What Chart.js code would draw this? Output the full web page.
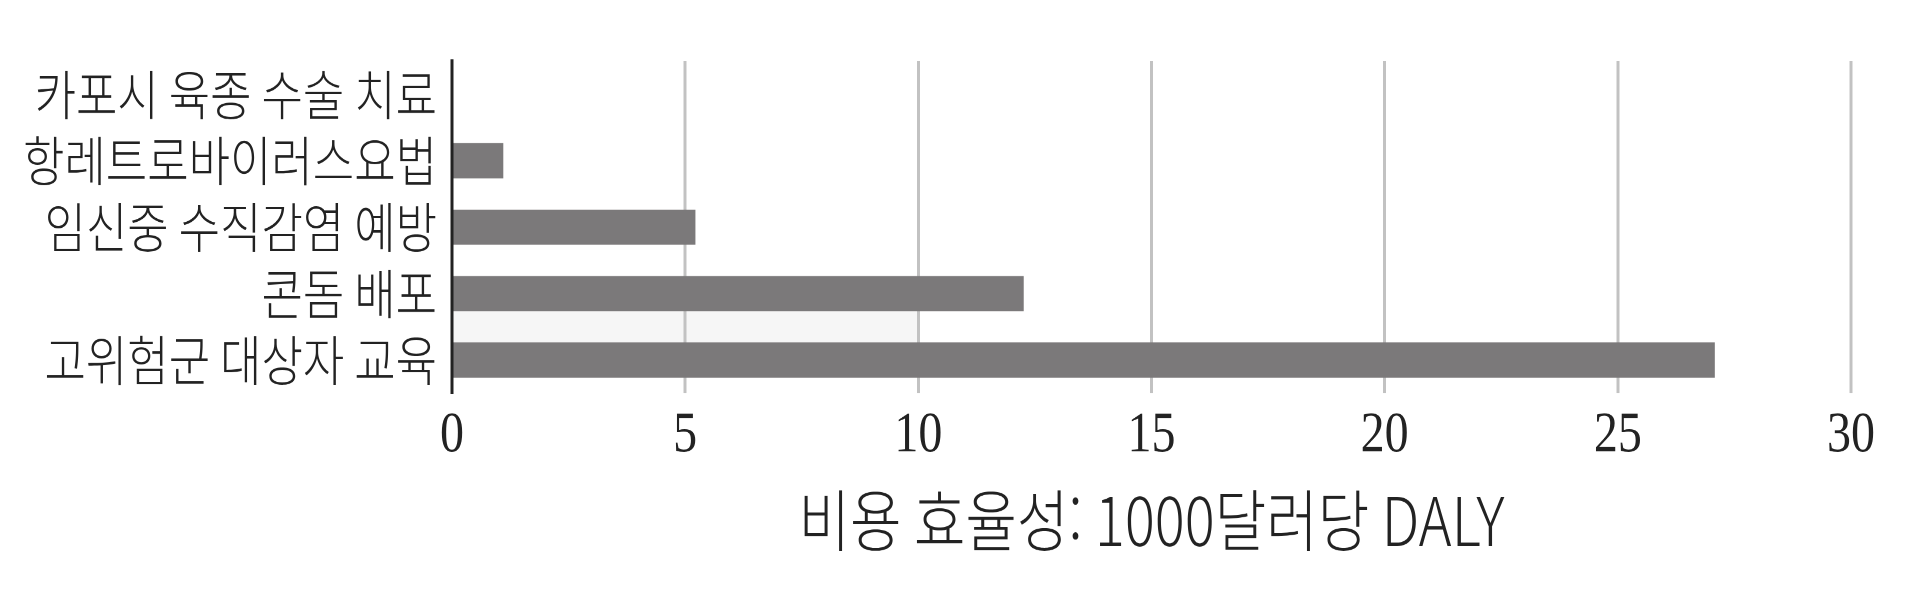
<!DOCTYPE html>
<html lang="ko">
<head>
<meta charset="utf-8">
<title>비용 효율성</title>
<script src="https://cdn.jsdelivr.net/npm/chart.js@4/dist/chart.umd.min.js"></script>
<style>
  html, body { margin: 0; padding: 0; background: #fff; overflow: hidden; }
</style>
</head>
<body>
<!-- o gráfico original tem o texto mais alto que largo: desenha 1920x498 e estica para 597 -->
<canvas id="chartCusto" width="1920" height="498" style="display:block;width:1920px;height:597px"></canvas>
<script>
// dados do gráfico
const categorias = ['카포시 육종 수술 치료', '항레트로바이러스요법', '임신중 수직감염 예방', '콘돔 배포', '고위험군 대상자 교육'];
const valores = [0, 1.1, 5.22, 12.26, 27.08];
const eixoX = { min: 0, max: 30, passo: 5 };
const tituloX = '비용 효율성: 1000달러당 DALY';

// faixa cinza clara que aparece entre as duas últimas barras
const faixaValores = [0, 10];
const faixaEntre = [3, 4];

const corBarra = '#7b797a';
const corGrade = '#c2c2c2';
const corTexto = '#222222';
const fonteCoreana = '"Noto Sans CJK KR", "Noto Sans", sans-serif';

const pluginFaixa = {
    id: 'faixa',
    beforeDraw(chart) {
        const meta = chart.getDatasetMeta(0);
        const a = meta.data[faixaEntre[0]];
        const b = meta.data[faixaEntre[1]];
        if (!a || !b) return;
        const x = chart.scales.x;
        const ctx = chart.ctx;
        const x0 = x.getPixelForValue(faixaValores[0]);
        const x1 = x.getPixelForValue(faixaValores[1]);
        const y0 = a.y + a.height / 2;
        const y1 = b.y - b.height / 2;
        ctx.save();
        ctx.fillStyle = '#f6f6f6';
        ctx.fillRect(x0, y0, x1 - x0, y1 - y0);
        ctx.restore();
    }
};

const ctx = document.getElementById('chartCusto').getContext('2d');
new Chart(ctx, {
    type: 'bar',
    data: {
        labels: categorias,
        datasets: [{
            data: valores,
            backgroundColor: corBarra,
            borderWidth: 0,
            barPercentage: 0.53,
            categoryPercentage: 1
        }]
    },
    plugins: [pluginFaixa],
    options: {
        indexAxis: 'y',
        responsive: false,
        devicePixelRatio: 2,
        animation: false,
        layout: { padding: { top: 51, right: 69, left: 0, bottom: 0 } },
        plugins: {
            legend: { display: false },
            tooltip: { enabled: false }
        },
        scales: {
            x: {
                type: 'linear',
                min: eixoX.min,
                max: eixoX.max,
                ticks: {
                    stepSize: eixoX.passo,
                    color: corTexto,
                    padding: 7,
                    font: { family: '"Liberation Serif", "Times New Roman", serif', size: 48 }
                },
                grid: { color: corGrade, lineWidth: 3, drawTicks: false },
                border: { display: false },
                title: {
                    display: true,
                    text: tituloX,
                    color: corTexto,
                    padding: { top: 0, bottom: 30 },
                    font: { family: fonteCoreana, size: 56, weight: 300 }
                },
                afterFit: s => { s.height = 170; }
            },
            y: {
                ticks: {
                    autoSkip: false,
                    color: corTexto,
                    padding: 15,
                    font: { family: fonteCoreana, size: 45, weight: 300 }
                },
                grid: { display: false, drawTicks: false },
                border: { display: true, color: corTexto, width: 3 },
                afterFit: s => { s.width = 452; }
            }
        }
    }
});
</script>
</body>
</html>
